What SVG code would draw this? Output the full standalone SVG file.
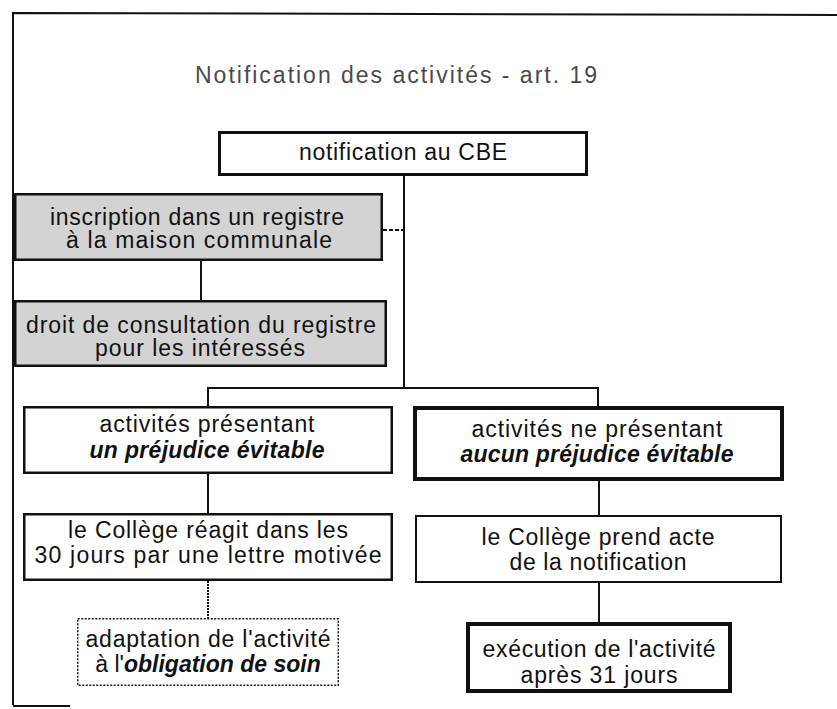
<svg xmlns="http://www.w3.org/2000/svg" width="837" height="709" viewBox="0 0 837 709">
  <style>
    .t { font-family: "Liberation Sans", Arial, Helvetica, sans-serif; font-size: 23px; fill: #111; text-anchor: middle; }
    .bi { font-weight: bold; font-style: italic; }
    .title { font-family: "Liberation Sans", Arial, Helvetica, sans-serif; font-size: 23px; fill: #4a4a4a; text-anchor: middle; }
    .box { fill: #fff; stroke: #111; }
    .gray { fill: #d3d3d3; stroke: #111; stroke-width: 2.5; }
    .c { fill: none; stroke: #111; stroke-width: 2; }
    .frame { fill: none; stroke: #111; stroke-width: 2; }
  </style>
  <rect width="837" height="709" fill="#fff"/>
  <g id="frame">
    <polyline class="frame" points="837,15 13,13 13,705"/>
    <line class="frame" x1="13" y1="706" x2="70" y2="706"/>
  </g>
  <text class="title" x="396" y="83" textLength="402" lengthAdjust="spacing">Notification des activités - art. 19</text>

  <g id="connectors">
    <line class="c" x1="404" y1="176" x2="404" y2="389"/>
    <line class="c" x1="207" y1="388" x2="599" y2="388"/>
    <line class="c" x1="208" y1="388" x2="208" y2="406"/>
    <line class="c" x1="598" y1="388" x2="598" y2="408"/>
    <line class="c" x1="383" y1="230" x2="404" y2="230" stroke-dasharray="4 2"/>
    <line class="c" x1="201" y1="261" x2="201" y2="300"/>
    <line class="c" x1="208" y1="474" x2="208" y2="513"/>
    <line class="c" x1="599" y1="480" x2="599" y2="515"/>
    <line class="c" x1="208" y1="581" x2="208" y2="618" stroke-dasharray="2 1"/>
    <line class="c" x1="599" y1="583" x2="599" y2="622"/>
  </g>

  <g id="notification">
    <rect class="box" x="219.5" y="132.5" width="367" height="42" stroke-width="3"/>
    <text class="t" x="403" y="160" textLength="208" lengthAdjust="spacing">notification au CBE</text>
  </g>

  <g id="inscription">
    <rect class="gray" x="15.25" y="194.25" width="366.5" height="65.5"/>
    <text class="t" x="197" y="225" textLength="294" lengthAdjust="spacing">inscription dans un registre</text>
    <text class="t" x="199" y="248" textLength="266" lengthAdjust="spacing">à la maison communale</text>
  </g>

  <g id="consultation">
    <rect class="gray" x="15.25" y="301.25" width="370.5" height="64.5"/>
    <text class="t" x="201" y="333" textLength="350" lengthAdjust="spacing">droit de consultation du registre</text>
    <text class="t" x="200" y="356" textLength="210" lengthAdjust="spacing">pour les intéressés</text>
  </g>

  <g id="prejudice-evitable">
    <rect class="box" x="24.25" y="407.25" width="367.5" height="65.5" stroke-width="2.5"/>
    <text class="t" x="207" y="432" textLength="215" lengthAdjust="spacing">activités présentant</text>
    <text class="t bi" x="207" y="458" textLength="235" lengthAdjust="spacing">un préjudice évitable</text>
  </g>

  <g id="aucun-prejudice">
    <rect class="box" x="415" y="408" width="367" height="71" stroke-width="4"/>
    <text class="t" x="597" y="437" textLength="251" lengthAdjust="spacing">activités ne présentant</text>
    <text class="t bi" x="597" y="462" textLength="273" lengthAdjust="spacing">aucun préjudice évitable</text>
  </g>

  <g id="college-reagit">
    <rect class="box" x="24.25" y="514.25" width="367.5" height="65.5" stroke-width="2.5"/>
    <text class="t" x="208" y="538" textLength="280" lengthAdjust="spacing">le Collège réagit dans les</text>
    <text class="t" x="208" y="563" textLength="347" lengthAdjust="spacing">30 jours par une lettre motivée</text>
  </g>

  <g id="college-prend-acte">
    <rect class="box" x="416" y="516" width="365" height="66" stroke-width="2"/>
    <text class="t" x="598" y="545" textLength="233" lengthAdjust="spacing">le Collège prend acte</text>
    <text class="t" x="598" y="570" textLength="177" lengthAdjust="spacing">de la notification</text>
  </g>

  <g id="adaptation">
    <rect class="box" x="77.75" y="618.75" width="260.5" height="66.5" stroke-width="1.5" stroke-dasharray="2 1.5"/>
    <text class="t" x="208" y="647" textLength="245" lengthAdjust="spacing">adaptation de l'activité</text>
    <text class="t" x="208" y="672">à l'<tspan class="bi">obligation de soin</tspan></text>
  </g>

  <g id="execution">
    <rect class="box" x="468" y="624" width="262" height="67" stroke-width="4"/>
    <text class="t" x="599" y="657" textLength="233" lengthAdjust="spacing">exécution de l'activité</text>
    <text class="t" x="599" y="683" textLength="157" lengthAdjust="spacing">après 31 jours</text>
  </g>
</svg>
